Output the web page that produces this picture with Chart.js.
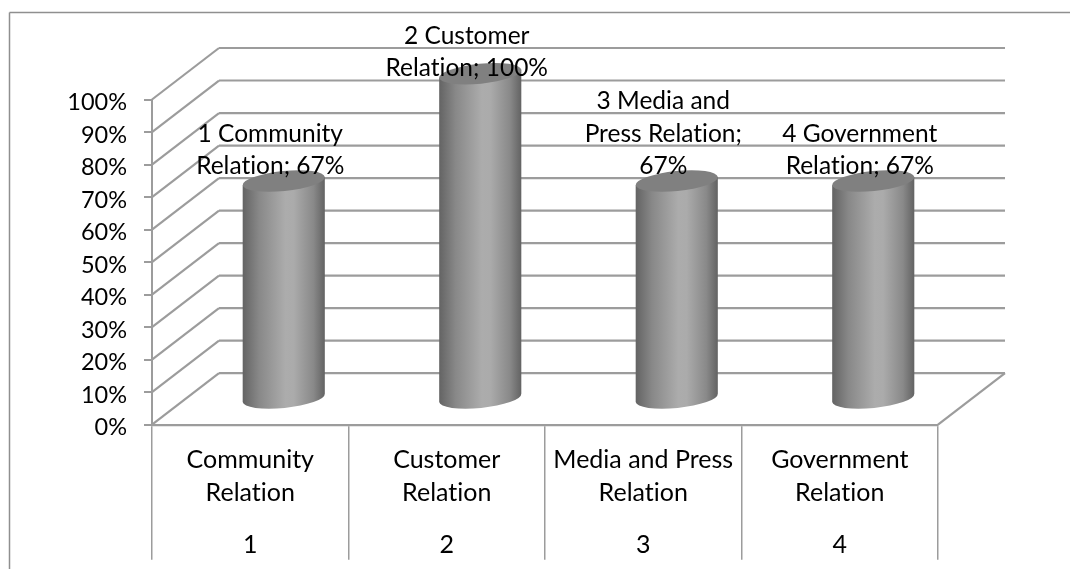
<!DOCTYPE html>
<html>
<head>
<meta charset="utf-8">
<style>html,body{margin:0;padding:0;background:#fff}canvas{display:block}</style>
<script src="https://cdn.jsdelivr.net/npm/chart.js@4/dist/chart.umd.min.js"></script>
</head>
<body>
<canvas id="c" width="1070" height="569"></canvas>
<script>
const categories = [["Community","Relation"],["Customer","Relation"],["Media and Press","Relation"],["Government","Relation"]];
const groupNumbers = ["1","2","3","4"];
const shares = [67,100,67,67];
const valueLabels = [
  ["1 Community","Relation; 67%"],
  ["2 Customer","Relation; 100%"],
  ["3 Media and","Press Relation;","67%"],
  ["4 Government","Relation; 67%"]
];

const FONT = "Lato, 'Open Sans', sans-serif";
const LINE = "#9c9c9c";
// Offset of the back wall from the front plane of the 3D box.
const DEPTH = {dx:67, dy:-51.5};
const LABEL_GAP = [14.5,5.5,14.5,14.5];

function strokeLine(ctx,x1,y1,x2,y2){
  ctx.beginPath();ctx.moveTo(x1,y1);ctx.lineTo(x2,y2);ctx.stroke();
}

const box3d = {
  id:"box3d",
  beforeDraw(chart){
    const ctx=chart.ctx;
    // Plain glyphs with no "ti" ligature in the axis and value text.
    ctx.textRendering="optimizeSpeed";
    // Lato's em-box middle sits high, so tick text is nudged down onto its tick.
    const nudges={y:3,x:1,x2:2};
    Object.keys(nudges).forEach(id=>{
      chart.scales[id].getLabelItems(chart.chartArea).forEach(item=>{
        if(!item.nudged){item.options.translation[1]+=nudges[id];item.nudged=true;}
      });
    });
    ctx.save();
    ctx.strokeStyle="#8f8f8f";ctx.lineWidth=1.5;
    strokeLine(ctx,9.5,12.5,1070,12.5);
    strokeLine(ctx,9.5,12.5,9.5,569);
    ctx.restore();
  },
  beforeDatasetsDraw(chart){
    const {ctx,chartArea:a,scales:{y}}=chart;
    ctx.save();
    ctx.strokeStyle=LINE;ctx.lineWidth=2.2;
    y.ticks.forEach(t=>{
      const py=y.getPixelForValue(t.value);
      strokeLine(ctx,a.left,py,a.left+DEPTH.dx,py+DEPTH.dy);
      strokeLine(ctx,a.left+DEPTH.dx,py+DEPTH.dy,a.right+DEPTH.dx,py+DEPTH.dy);
    });
    strokeLine(ctx,a.right,a.bottom,a.right+DEPTH.dx,a.bottom+DEPTH.dy);
    ctx.restore();
  },
  afterDatasetsDraw(chart){
    const ctx=chart.ctx;
    const bars=chart.getDatasetMeta(0).data;
    const rot=-0.1, ry=10;
    ctx.save();
    bars.forEach(b=>{
      const cx=b.x+DEPTH.dx/2, rx=b.width/2;
      const topY=b.y+DEPTH.dy/2, baseY=b.base+DEPTH.dy/2;
      const ex=rx*Math.cos(rot), ey=rx*Math.sin(rot);
      const g=ctx.createLinearGradient(cx-rx,0,cx+rx,0);
      g.addColorStop(0,"#636363");
      g.addColorStop(0.2,"#888888");
      g.addColorStop(0.52,"#acacac");
      g.addColorStop(0.62,"#ababab");
      g.addColorStop(0.86,"#898989");
      g.addColorStop(1,"#626262");
      ctx.fillStyle=g;
      ctx.beginPath();
      ctx.moveTo(cx-ex,topY-ey);
      ctx.lineTo(cx-ex,baseY-ey);
      ctx.ellipse(cx,baseY,rx,ry,rot,Math.PI,0,true);
      ctx.lineTo(cx+ex,topY+ey);
      ctx.closePath();
      ctx.fill();
      ctx.fillStyle="#808080";
      ctx.beginPath();
      ctx.ellipse(cx,topY,rx,ry,rot,0,Math.PI*2);
      ctx.fill();
    });
    // Value labels sit above the cylinders and overlap their caps.
    ctx.fillStyle="#000";
    ctx.font="24.5px "+FONT;
    ctx.textAlign="center";ctx.textBaseline="middle";
    bars.forEach((b,i)=>{
      const cx=b.x+DEPTH.dx/2-13.5;
      const lastY=b.y+DEPTH.dy/2-LABEL_GAP[i];
      const lines=valueLabels[i];
      lines.forEach((s,j)=>ctx.fillText(s,cx,lastY-(lines.length-1-j)*32.5));
    });
    ctx.restore();
  }
};

new Chart(document.getElementById("c"),{
  type:"bar",
  data:{labels:categories,datasets:[{
    data:shares,
    backgroundColor:"transparent",
    borderWidth:0,
    categoryPercentage:1,
    barPercentage:0.42
  }]},
  plugins:[box3d],
  options:{
    responsive:false,animation:false,
    layout:{padding:{left:0,right:132,top:99.5,bottom:0}},
    plugins:{legend:{display:false},tooltip:{enabled:false},title:{display:false}},
    scales:{
      y:{
        min:0,max:100,
        afterFit(s){s.width=152;},
        ticks:{stepSize:10,callback:v=>v+"%",padding:17,color:"#000",font:{family:FONT,size:23.5}},
        grid:{drawOnChartArea:false,tickLength:8,color:LINE,lineWidth:2},
        border:{color:LINE,width:2}
      },
      x:{
        afterFit(s){s.height=80;},
        ticks:{maxRotation:0,autoSkip:false,padding:-117,color:"#000",font:{family:FONT,size:25,lineHeight:1.31}},
        grid:{drawOnChartArea:false,tickLength:135,color:LINE,lineWidth:1.5},
        border:{color:LINE,width:2.2}
      },
      x2:{
        type:"category",position:"bottom",labels:groupNumbers,offset:true,
        afterFit(s){s.height=64.3;},
        ticks:{maxRotation:0,autoSkip:false,padding:22,color:"#000",font:{family:FONT,size:25,lineHeight:1.31}},
        grid:{display:false,drawTicks:false},
        border:{display:false}
      }
    }
  }
});
</script>
</body>
</html>
